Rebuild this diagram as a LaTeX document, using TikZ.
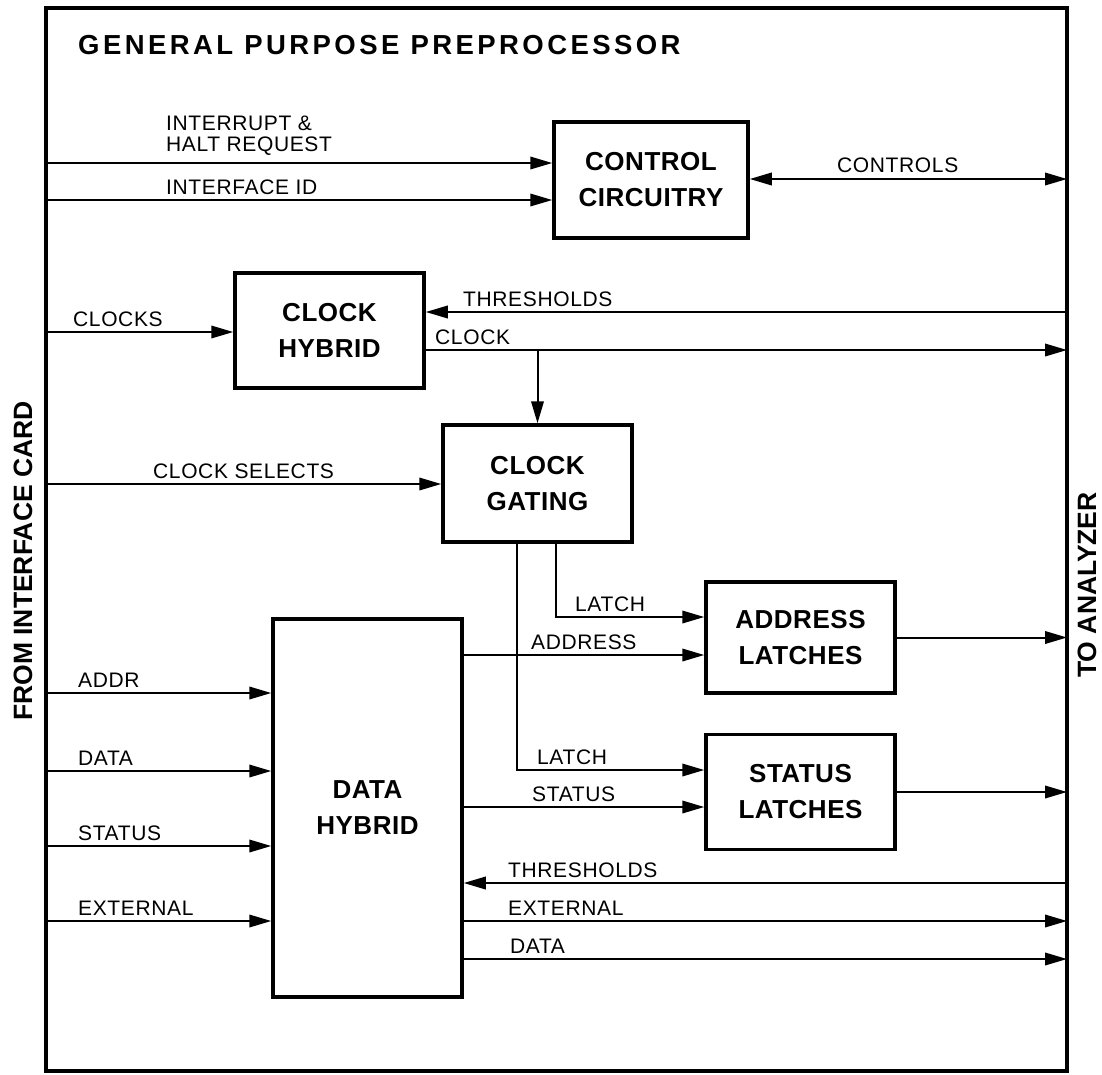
\documentclass[tikz,border=0pt]{standalone}
\usepackage{fontspec}
\setmainfont{Liberation Sans}
\newfontfamily\lblfont[LetterSpace=3]{Liberation Sans}
\newfontfamily\boxfont[LetterSpace=2]{Liberation Sans}
\newfontfamily\ttlfont[LetterSpace=12.5]{Liberation Sans}
\usetikzlibrary{positioning,arrows.meta}

\tikzset{
blk/.style={draw,line width=3.5pt,minimum width=189pt,align=center,font=\boxfont\bfseries\fontsize{26}{36}\selectfont},
lbl/.style={anchor=base west,inner sep=0pt,font=\lblfont\fontsize{21}{21}\selectfont},
sig/.style={line width=2pt,-{Triangle[length=22pt,width=12.5pt]}},
side/.style={rotate=90,font=\bfseries\fontsize{26.5}{30}\selectfont}
}

\begin{document}
\begin{tikzpicture}[x=1pt,y=-1pt]
\useasboundingbox (0,0) rectangle (1102,1074);
\node[draw,line width=4pt,outer sep=0pt,inner sep=0pt,minimum width=1021pt,minimum height=1063pt](frame) at (556.5,539.5){};
\node[anchor=base west,inner sep=0pt,font=\ttlfont\bfseries\fontsize{27.5}{30}\selectfont](title) at (78,54){GENERAL PURPOSE PREPROCESSOR};
\node[side](from) at (23,561){FROM INTERFACE CARD};
\node[side](to) at (1087,585){TO ANALYZER};

\node[blk,minimum width=194pt,minimum height=116pt](ctrl) at (651,180){CONTROL\\CIRCUITRY};
\node[blk,minimum height=115pt](clkhyb) at (329.5,330.5){CLOCK\\HYBRID};
\node[blk,minimum height=117pt](clkgate) at (537.5,483.5){CLOCK\\GATING};
\node[blk,minimum height=111pt](addrlat) at (800.5,637.5){ADDRESS\\LATCHES};
\node[blk,minimum height=115pt, below=38pt of addrlat](statlat){STATUS\\LATCHES};
\node[blk,minimum height=378pt](datahyb) at (367.5,808){DATA\\HYBRID};

% signal rows
\coordinate (rInt) at (0,163);
\coordinate (rIid) at (0,200);
\coordinate (rCtl) at (0,179);
\coordinate (rClks) at (0,332);
\coordinate (rThr) at (0,312);
\coordinate (rClk) at (0,350);
\coordinate (rSel) at (0,484);
\coordinate (rLat1) at (0,617);
\coordinate (rLat2) at (0,770);
\coordinate (rAdr) at (0,655);
\coordinate (rSta) at (0,807);
\coordinate (rAddr) at (0,693);
\coordinate (rData) at (0,771);
\coordinate (rStat) at (0,846);
\coordinate (rExt) at (0,921);
\coordinate (rThr2) at (0,883);
\coordinate (rDat2) at (0,959);
\coordinate (tapA) at (556,0);
\coordinate (tapS) at (517,0);

% control circuitry
\path (frame.west |- rInt) edge[sig] (ctrl.west |- rInt);
\path (frame.west |- rIid) edge[sig] (ctrl.west |- rIid);
\path (ctrl.east |- rCtl) edge[sig,{Triangle[length=22pt,width=12.5pt]}-{Triangle[length=22pt,width=12.5pt]}] (frame.east |- rCtl);
\node[lbl,align=left,anchor=south west](lInt) at (166,156){INTERRUPT \&\\HALT REQUEST};
\node[lbl](lIid) at (166,194){INTERFACE ID};
\node[lbl](lCtl) at (837,172){CONTROLS};

% clocks
\path (frame.west |- rClks) edge[sig] (clkhyb.west |- rClks);
\path (frame.east |- rThr) edge[sig] (clkhyb.east |- rThr);
\path (clkhyb.east |- rClk) edge[sig] (frame.east |- rClk);
\path (clkgate.north |- rClk) edge[sig] (clkgate.north);
\path (frame.west |- rSel) edge[sig] (clkgate.west |- rSel);
\node[lbl](lClks) at (73,326){CLOCKS};
\node[lbl](lThr) at (463,306){THRESHOLDS};
\node[lbl](lClk) at (435,344){CLOCK};
\node[lbl](lSel) at (153,478){CLOCK SELECTS};

% latches
\draw[sig] (clkgate.south -| tapA) |- (rLat1 -| addrlat.west);
\draw[sig] (clkgate.south -| tapS) |- (rLat2 -| statlat.west);
\path (datahyb.east |- rAdr) edge[sig] (addrlat.west |- rAdr);
\path (datahyb.east |- rSta) edge[sig] (statlat.west |- rSta);
\path (addrlat.east) edge[sig] (frame.east |- addrlat.east);
\path (statlat.east) edge[sig] (frame.east |- statlat.east);
\node[lbl](lLat1) at (575,611){LATCH};
\node[lbl](lAdr) at (531,649){ADDRESS};
\node[lbl](lLat2) at (537,764){LATCH};
\node[lbl](lSta) at (532,801){STATUS};

% data hybrid
\path (frame.west |- rAddr) edge[sig] (datahyb.west |- rAddr);
\path (frame.west |- rData) edge[sig] (datahyb.west |- rData);
\path (frame.west |- rStat) edge[sig] (datahyb.west |- rStat);
\path (frame.west |- rExt) edge[sig] (datahyb.west |- rExt);
\path (frame.east |- rThr2) edge[sig] (datahyb.east |- rThr2);
\path (datahyb.east |- rExt) edge[sig] (frame.east |- rExt);
\path (datahyb.east |- rDat2) edge[sig] (frame.east |- rDat2);
\node[lbl](lAddr) at (78,687){ADDR};
\node[lbl](lData) at (78,765){DATA};
\node[lbl](lStat) at (78,840){STATUS};
\node[lbl](lExt) at (78,915){EXTERNAL};
\node[lbl](lThr2) at (508,877){THRESHOLDS};
\node[lbl](lExt2) at (508,915){EXTERNAL};
\node[lbl](lDat2) at (510,953){DATA};

\end{tikzpicture}
\end{document}
